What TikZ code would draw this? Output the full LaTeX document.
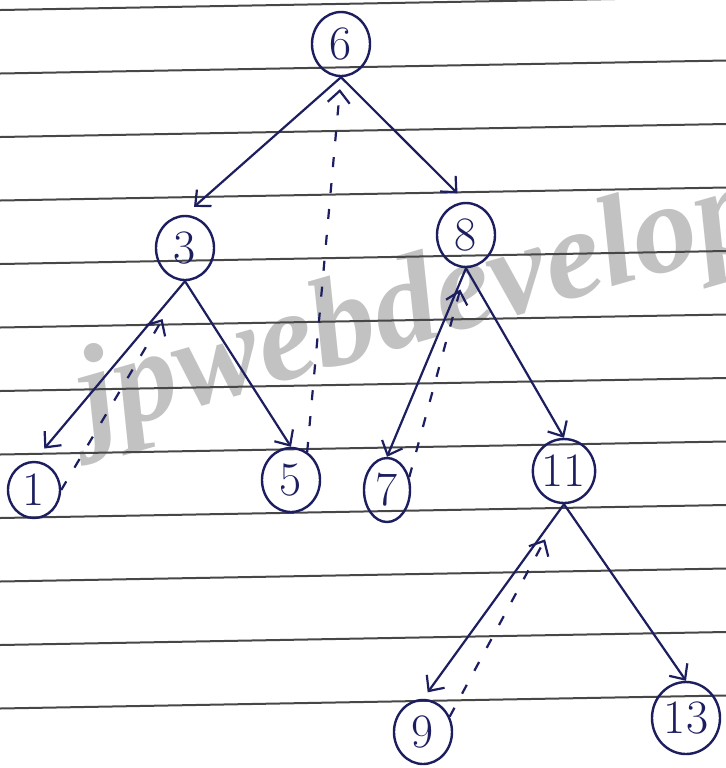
\documentclass[tikz,border=0pt]{standalone}
\usepackage{fontspec}
\newfontfamily\markfont{Liberation Serif}
\usepackage{tikz}
\usetikzlibrary{shapes.geometric}
\usetikzlibrary{arrows.meta}
\definecolor{ink}{RGB}{28,30,95}

\begin{document}
\begin{tikzpicture}[
    x=0.5pt, y=-0.5pt,
    vertex/.style={ellipse, draw=ink, line width=1.2pt, minimum width=29pt, minimum height=32pt, inner sep=0pt, text=ink, font=\fontsize{24}{24}\selectfont},
    edge/.style={draw=ink, line width=1.1pt, -{Straight Barb[length=6pt,width=11pt]}},
    thread/.style={edge, dash pattern=on 5pt off 8pt},
    rule/.style={black!72, line width=1pt}
]
    \useasboundingbox (0,0) rectangle (726,768);
    \fill[white] (0,0) rectangle (726,768);

    % Watermark
    \begin{scope}
    \clip (0,0) rectangle (726,768);
    \node[anchor=base west, rotate=16, text=black!24, inner sep=0pt,
          font=\markfont\bfseries\itshape\fontsize{64}{64}\selectfont] (mark) at (90,437) {jpwebdevelop};
    \end{scope}

    % Ruled lines
    \foreach \i in {0,...,11}
        \draw[rule] (0,{10+63.5*\i}) -- (726,{-3+63.5*\i});

    % Nodes
    \node[vertex] (n6) at (341,44) {6};
    \node[vertex] (n3) at (185,248) {3};
    \node[vertex] (n8) at (466,235) {8};
    \node[vertex, minimum width=26pt, minimum height=28pt] (n1) at (34,490) {1};
    \node[vertex] (n5) at (291,480) {5};
    \node[vertex, minimum width=23pt] (n7) at (387,490) {7};
    \node[vertex] (n11) at (564,471) {11};
    \node[vertex] (n9) at (423,732) {9};
    \node[vertex, minimum width=34pt, minimum height=36pt] (n13) at (686,718) {13};

    % Child links
    \draw[edge, shorten >=6pt] (n6.south) -- (n3.north);
    \draw[edge, shorten >=6pt] (n6.south) -- (n8.north);
    \draw[edge, shorten >=8pt] (n3.south) -- (n1.north);
    \draw[edge] (n3.south) -- (n5.north);
    \draw[edge] (n8.south) -- (n7.north);
    \draw[edge] (n8.south) -- (n11.north);
    \draw[edge, shorten >=4pt] (n11.south) -- (n9.north);
    \draw[edge] (n11.south) -- (n13.north);

    % Threads
    \draw[thread, shorten >=22pt] (n1.east) -- (n3.south);
    \draw[thread, shorten >=6pt] (n5.60) -- (n6.south);
    \draw[thread, shorten >=11pt] (n7.30) -- (n8.south);
    \draw[thread, shorten >=20pt] (n9.30) -- (n11.south);
\end{tikzpicture}
\end{document}
